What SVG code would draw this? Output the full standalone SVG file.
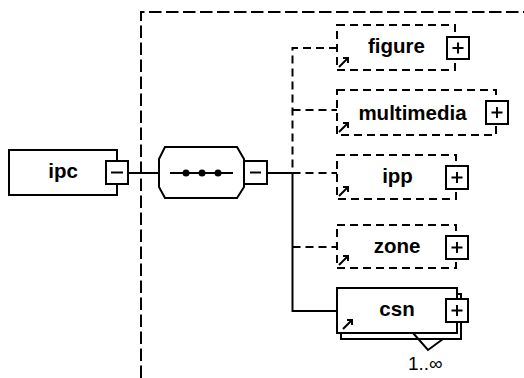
<svg xmlns="http://www.w3.org/2000/svg" width="524" height="378" viewBox="0 0 524 378">
<style>
.bg{fill:#fff}
.ln{fill:none;stroke:#000;stroke-width:2}
.dl{fill:none;stroke:#000;stroke-width:2;stroke-dasharray:8,5}
.grp{fill:none;stroke:#000;stroke-width:2;stroke-dasharray:12.5,4.5}
.box{fill:#fff;stroke:#000;stroke-width:2}
.dbox{fill:#fff;stroke:#000;stroke-width:2;stroke-dasharray:8,5}
.btn{fill:#fff;stroke:#000;stroke-width:2}
.sg{fill:none;stroke:#000;stroke-width:2}
.ref{fill:none;stroke:#000;stroke-width:2}
.lbl{font-family:"Liberation Sans",Arial,sans-serif;font-weight:bold;font-size:20.5px;text-anchor:middle;fill:#000}
.occ{font-family:"Liberation Sans",Arial,sans-serif;font-size:19px;fill:#000}
</style>
<rect class="bg" width="524" height="378"/>
<g id="connectors">
<path class="grp" d="M141,378 V12 H524"/>
<path class="ln" d="M128,173 H159"/>
<path class="ln" d="M267,173 H292.5"/>
<path class="dl" d="M337,48 H292.5 V173"/>
<path class="ln" d="M292.5,173 V311 H337"/>
<path class="dl" d="M292.5,110 H337"/>
<path class="dl" d="M292.5,173 H337"/>
<path class="dl" d="M292.5,247 H337"/>
</g>
<g id="ipc">
<rect class="box" x="9" y="150" width="108" height="45"/>
<text class="lbl" x="63" y="178">ipc</text>
<rect class="btn" x="106" y="161" width="22" height="23"/>
<path class="sg" d="M111,172.5 H123"/>
</g>
<g id="sequence">
<polygon class="box" points="165,147 237,147 244,159 244,187 237,198 165,198 159,187 159,159"/>
<path class="ln" d="M170,173 H233"/>
<circle cx="186" cy="173" r="3.5"/>
<circle cx="202" cy="173" r="3.5"/>
<circle cx="218" cy="173" r="3.5"/>
<rect class="btn" x="244" y="161" width="23" height="23"/>
<path class="sg" d="M250,172.5 H261"/>
</g>
<g id="figure">
<rect class="dbox" x="337" y="25" width="118" height="45"/>
<text class="lbl" x="396.5" y="52.5">figure</text>
<path class="ref" d="M339,67 L348,58 M343,58 H348 V63"/>
<rect class="btn" x="447" y="37" width="22" height="22"/>
<path class="sg" d="M452.5,48 H463.5 M458,42.5 V53.5"/>
</g>
<g id="multimedia">
<rect class="dbox" x="337" y="90" width="159" height="45"/>
<text class="lbl" x="412.5" y="120">multimedia</text>
<path class="ref" d="M339,132 L348,123 M343,123 H348 V128"/>
<rect class="btn" x="486" y="101" width="22" height="23"/>
<path class="sg" d="M491.5,112.5 H502.5 M497,107 V118"/>
</g>
<g id="ipp">
<rect class="dbox" x="337" y="155" width="119" height="44"/>
<text class="lbl" x="397.5" y="183">ipp</text>
<path class="ref" d="M339,196 L348,187 M343,187 H348 V192"/>
<rect class="btn" x="446" y="166" width="22" height="23"/>
<path class="sg" d="M451.5,177.5 H462.5 M457,172 V183"/>
</g>
<g id="zone">
<rect class="dbox" x="337" y="225" width="119" height="43"/>
<text class="lbl" x="397" y="252.5">zone</text>
<path class="ref" d="M339,265 L348,256 M343,256 H348 V261"/>
<rect class="btn" x="446" y="236" width="22" height="23"/>
<path class="sg" d="M451.5,247.5 H462.5 M457,242 V253"/>
</g>
<g id="csn">
<rect class="box" x="341" y="294" width="120" height="45"/>
<rect class="box" x="337" y="288" width="120" height="45"/>
<text class="lbl" x="397" y="316">csn</text>
<path class="ref" d="M343,329 L352,320 M347,320 H352 V325"/>
<rect class="btn" x="446" y="299" width="22" height="23"/>
<path class="sg" d="M451.5,310.5 H462.5 M457,305 V316"/>
<path class="ln" d="M413,333 L428,350 L443,339"/>
<text class="occ" x="408" y="370">1..∞</text>
</g>
</svg>
